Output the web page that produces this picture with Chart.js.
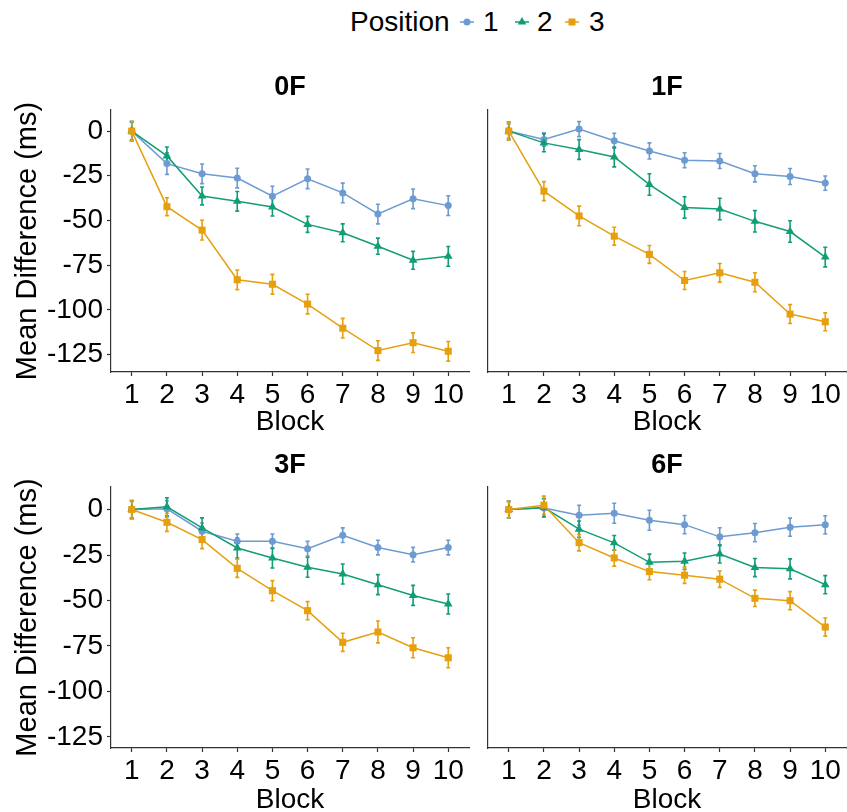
<!DOCTYPE html>
<html>
<head>
<meta charset="utf-8">
<script src="https://cdn.jsdelivr.net/npm/chart.js@4.4.1/dist/chart.umd.min.js"></script>
<style>
  body { margin: 0; background: #fff; }
  #wrap { position: relative; width: 847px; height: 812px; overflow: hidden; font-family: 'Liberation Sans', Arial, sans-serif; }
  canvas { position: absolute; }
  .lg { position: absolute; top: 8px; font-size: 28px; line-height: 28px; color: #000; white-space: nowrap; }
  .key { position: absolute; top: 12px; }
</style>
</head>
<body>
<div id="wrap">
  <span class="lg" style="left:350px">Position</span>
  <svg class="key" style="left:457px" width="20" height="20"><line x1="3" y1="10" x2="17" y2="10" stroke="#6C9BD2" stroke-width="1.5"/><circle cx="10" cy="10" r="3.5" fill="#6C9BD2"/></svg>
  <span class="lg" style="left:483px">1</span>
  <svg class="key" style="left:512px" width="20" height="20"><line x1="3" y1="10" x2="17" y2="10" stroke="#119E76" stroke-width="1.5"/><polygon points="10,5 5.7,12.5 14.3,12.5" fill="#119E76"/></svg>
  <span class="lg" style="left:537px">2</span>
  <svg class="key" style="left:562px" width="20" height="20"><line x1="3" y1="10" x2="17" y2="10" stroke="#E6A00F" stroke-width="1.5"/><rect x="6.5" y="6.5" width="7" height="7" fill="#E6A00F"/></svg>
  <span class="lg" style="left:589px">3</span>

  <canvas id="c0F" width="480" height="380" style="left:0px;top:60px"></canvas>
  <canvas id="c1F" width="377" height="380" style="left:470px;top:60px"></canvas>
  <canvas id="c3F" width="480" height="372" style="left:0px;top:440px"></canvas>
  <canvas id="c6F" width="377" height="372" style="left:470px;top:440px"></canvas>
</div>
<script>
// data
const blocks = [1, 2, 3, 4, 5, 6, 7, 8, 9, 10];
const yTicks = [0, -25, -50, -75, -100, -125];
const positions = ['1', '2', '3'];

// 0F
const f0Pos1 = [0, -18.2, -23.9, -26.3, -36.4, -26.7, -34.6, -46.4, -37.9, -41.7];
const f0Pos2 = [0, -13.9, -36.3, -39.3, -42.5, -52.2, -56.9, -64.4, -72.3, -70.1];
const f0Pos3 = [0, -42.3, -55.4, -83.2, -85.7, -96.8, -110.3, -122.8, -118.4, -123.2];
const f0Se1 = [5.5, 6, 5.5, 5.5, 5.5, 5.5, 5.5, 5.5, 5.5, 5.5];
const f0Se2 = [5, 5, 5, 5.5, 5, 4.5, 5, 4.5, 5, 5.5];
const f0Se3 = [5.5, 5, 5.5, 5.5, 5.5, 5.5, 5.5, 5.5, 5.5, 5.5];

// 1F
const f1Pos1 = [0, -4.7, 1.1, -5.4, -11.1, -16.3, -16.7, -23.9, -25.4, -29.1];
const f1Pos2 = [0, -6.6, -10.3, -14.5, -29.9, -42.7, -43.6, -50.5, -56.2, -70.5];
const f1Pos3 = [0, -33.6, -47.5, -58.8, -69.0, -83.6, -79.3, -84.6, -102.4, -106.7];
const f1Se1 = [4, 3.8, 4.2, 4.2, 4.5, 4.2, 4.2, 4.5, 4.5, 4];
const f1Se2 = [5, 5, 5.5, 5.5, 6, 6, 6, 6, 6, 5.5];
const f1Se3 = [5, 5.3, 5.5, 5, 5, 5, 5.2, 5.3, 5.3, 5];

// 3F
const f3Pos1 = [0, 0.4, -11.9, -17.4, -17.4, -21.5, -14.1, -20.9, -24.8, -20.9];
const f3Pos2 = [0, 1.5, -10.1, -21.1, -26.6, -31.7, -35.4, -41.3, -47.2, -51.9];
const f3Pos3 = [0, -7.0, -16.5, -32.3, -44.6, -55.6, -73.0, -67.3, -76.0, -81.5];
const f3Se1 = [4.5, 4.5, 4.5, 4, 4, 4, 4, 4, 4, 4];
const f3Se2 = [5, 5, 5.5, 5.5, 5.5, 5.5, 5.5, 5.5, 5.5, 5.5];
const f3Se3 = [5, 5, 5, 5, 5.5, 5, 5, 6, 5.5, 5.5];

// 6F
const f6Pos1 = [0, 0.9, -3.1, -2.0, -5.9, -8.3, -15.0, -12.7, -9.7, -8.4];
const f6Pos2 = [0, 1.1, -10.8, -18.3, -29.0, -28.4, -24.4, -31.9, -32.6, -41.3];
const f6Pos3 = [0, 2.4, -18.2, -26.6, -34.1, -36.1, -38.3, -48.8, -50.1, -64.6];
const f6Se1 = [4.5, 5, 5.5, 5.5, 5.5, 5, 5, 5, 5, 5];
const f6Se2 = [4.5, 5, 4.5, 4, 4.5, 4.5, 5, 5, 5.5, 5];
const f6Se3 = [4.5, 5, 4.5, 4.5, 4.5, 4.5, 4.5, 4.5, 5, 5];

const colors = ['#6C9BD2', '#119E76', '#E6A00F'];
const shapes = ['circle', 'triangle', 'rect'];
const radii = [3.5, 5, 5];
const axisColor = '#333333';

Chart.defaults.font.family = "'Liberation Sans', Arial, sans-serif";
Chart.defaults.color = '#000';

// vertical error bars (mean +/- se) drawn through the chart's own scales
const errorBars = {
  id: 'errorBars',
  beforeDatasetsDraw(chart) {
    const ctx = chart.ctx;
    const xs = chart.scales.x, ys = chart.scales.y;
    ctx.save();
    chart.data.datasets.forEach(ds => {
      ctx.strokeStyle = ds.borderColor;
      ctx.lineWidth = 1.6;
      ds.data.forEach((p, j) => {
        const px = xs.getPixelForValue(p.x);
        const lo = ys.getPixelForValue(p.y - ds.se[j]);
        const hi = ys.getPixelForValue(p.y + ds.se[j]);
        ctx.beginPath();
        ctx.moveTo(px, lo); ctx.lineTo(px, hi);
        ctx.moveTo(px - 2, lo); ctx.lineTo(px + 2, lo);
        ctx.moveTo(px - 2, hi); ctx.lineTo(px + 2, hi);
        ctx.stroke();
      });
    });
    ctx.restore();
  }
};

function makePanel(id, name, vals, ses, isLeft, isTop) {
  const yMin = isTop ? -134.8 : -131.1;
  const yMax = isTop ? 11.8 : 12.4;
  new Chart(document.getElementById(id), {
    type: 'line',
    data: {
      datasets: positions.map((pos, k) => ({
        label: pos,
        data: blocks.map((b, i) => ({ x: b, y: vals[k][i] })),
        se: ses[k],
        borderColor: colors[k],
        backgroundColor: colors[k],
        borderWidth: 1.5,
        pointStyle: shapes[k],
        pointRadius: radii[k],
        pointBorderWidth: 0,
        order: 3 - k
      }))
    },
    options: {
      responsive: false,
      animation: false,
      events: [],
      layout: { autoPadding: false, padding: { right: isLeft ? 11 : 1 } },
      plugins: {
        legend: { display: false },
        tooltip: { enabled: false },
        title: {
          display: true, text: name, fullSize: false, color: '#000',
          font: { size: 27, weight: 'bold', lineHeight: 1 },
          padding: isTop ? { top: 14, bottom: 9 } : { top: 12, bottom: 8 }
        }
      },
      scales: {
        x: {
          type: 'linear', min: 0.41, max: 10.59,
          afterBuildTicks: s => { s.ticks = blocks.map(v => ({ value: v })); },
          afterFit: s => { s.height = isTop ? 68 : 64; },
          border: { color: axisColor, width: 1.2 },
          grid: { display: true, drawOnChartArea: false, drawTicks: true, tickLength: 4, tickColor: axisColor, tickWidth: 1.2 },
          ticks: { font: { size: 28 }, color: '#000', padding: 2, autoSkip: false, maxRotation: 0 },
          title: { display: true, text: 'Block', color: '#000', font: { size: 28, lineHeight: 1 }, padding: { top: 0, bottom: isTop ? 3.5 : -2.5 } }
        },
        y: {
          min: yMin, max: yMax,
          afterBuildTicks: s => { s.ticks = yTicks.map(v => ({ value: v })); },
          afterFit: s => { s.width = isLeft ? 111 : 18; },
          border: { color: axisColor, width: 1.2 },
          grid: { display: isLeft, drawOnChartArea: false, drawTicks: isLeft, tickLength: 4, tickColor: axisColor, tickWidth: 1.2 },
          ticks: { display: isLeft, font: { size: 28 }, color: '#000', padding: 4 },
          title: { display: isLeft, text: 'Mean Difference (ms)', color: '#000', font: { size: 29, lineHeight: 1 }, padding: { top: 13, bottom: 0 } }
        }
      }
    },
    plugins: [errorBars]
  });
}

makePanel('c0F', '0F', [f0Pos1, f0Pos2, f0Pos3], [f0Se1, f0Se2, f0Se3], true, true);
makePanel('c1F', '1F', [f1Pos1, f1Pos2, f1Pos3], [f1Se1, f1Se2, f1Se3], false, true);
makePanel('c3F', '3F', [f3Pos1, f3Pos2, f3Pos3], [f3Se1, f3Se2, f3Se3], true, false);
makePanel('c6F', '6F', [f6Pos1, f6Pos2, f6Pos3], [f6Se1, f6Se2, f6Se3], false, false);
</script>
</body>
</html>
